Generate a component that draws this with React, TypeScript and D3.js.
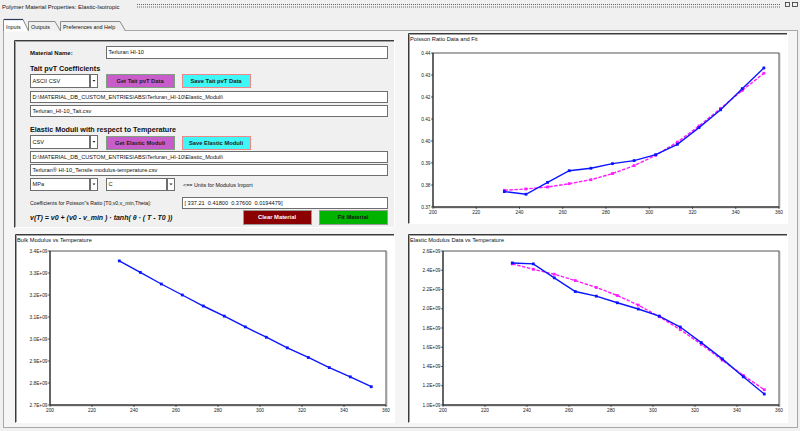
import React from 'react';
import * as d3 from 'd3';

// ---------- data ----------
const temperatures = [233, 243, 253, 263, 273, 283, 293, 303, 313, 323, 333, 343, 353];
const poissonData = [0.377, 0.3758, 0.3812, 0.3865, 0.3876, 0.3897, 0.3911, 0.3938, 0.3985, 0.4061, 0.4142, 0.4238, 0.4332];
const poissonFit = [0.3776, 0.3782, 0.3791, 0.3806, 0.3824, 0.3852, 0.3888, 0.3935, 0.3995, 0.4068, 0.4148, 0.423, 0.4308];
const bulkModulus = [3.355e9, 3.303e9, 3.25e9, 3.2e9, 3.15e9, 3.104e9, 3.055e9, 3.008e9, 2.96e9, 2.916e9, 2.87e9, 2.828e9, 2.783e9];
const elasticData = [2.476e9, 2.466e9, 2.321e9, 2.179e9, 2.131e9, 2.062e9, 1.997e9, 1.924e9, 1.81e9, 1.648e9, 1.479e9, 1.293e9, 1.114e9];
const elasticFit = [2.466e9, 2.41e9, 2.359e9, 2.293e9, 2.221e9, 2.138e9, 2.038e9, 1.917e9, 1.783e9, 1.631e9, 1.466e9, 1.307e9, 1.159e9];
const xTicks = [200, 220, 240, 260, 280, 300, 320, 340, 360];
const poissonTicks = [0.37, 0.38, 0.39, 0.4, 0.41, 0.42, 0.43, 0.44];
const bulkTicks = [2.7e9, 2.8e9, 2.9e9, 3.0e9, 3.1e9, 3.2e9, 3.3e9, 3.4e9];
const elasticTicks = [1.0e9, 1.2e9, 1.4e9, 1.6e9, 1.8e9, 2.0e9, 2.2e9, 2.4e9, 2.6e9];
const tabLabels = ['Inputs', 'Outputs', 'Preferences and Help'];

const FONT = "'Liberation Sans', Arial, sans-serif";
const BLUE = '#0a14ff';
const MAGENTA = '#ff1aff';

type Series = { values: number[]; color: string; dashed?: boolean };

function Sunken({ x, y, w, h, fill }: { x: number; y: number; w: number; h: number; fill: string }) {
  return (
    <g>
      <rect x={x} y={y} width={w} height={h} fill={fill} />
      <path d={`M${x + 0.5},${y + h} V${y + 0.5} H${x + w}`} stroke="#3a3a3a" fill="none" />
      <path d={`M${x + 1.5},${y + h - 1} V${y + 1.5} H${x + w - 1}`} stroke="#a0a0a0" fill="none" />
      <path d={`M${x + 0.5},${y + h - 0.5} H${x + w - 0.5} V${y}`} stroke="#ffffff" fill="none" />
    </g>
  );
}

function Chart({
  panel, plot, title, yDomain, yTicks, yFmt, series,
}: {
  panel: { x: number; y: number; w: number; h: number };
  plot: { x0: number; x1: number; y0: number; y1: number };
  title: string;
  yDomain: [number, number];
  yTicks: number[];
  yFmt: (v: number) => string;
  series: Series[];
}) {
  const x = d3.scaleLinear().domain([200, 360]).range([plot.x0, plot.x1]);
  const y = d3.scaleLinear().domain(yDomain).range([plot.y1, plot.y0]);
  const line = d3.line<[number, number]>().x((d) => x(d[0])).y((d) => y(d[1]));
  return (
    <g>
      <Sunken x={panel.x} y={panel.y} w={panel.w} h={panel.h} fill="#ffffff" />
      <text x={panel.x + 2} y={panel.y + 8} fontSize={5.7} fontFamily={FONT} fill="#111">{title}</text>
      <rect x={plot.x0 + 1} y={plot.y0 + 1} width={plot.x1 - plot.x0} height={plot.y1 - plot.y0} fill="none" stroke="#c8c8c8" />
      <rect x={plot.x0} y={plot.y0} width={plot.x1 - plot.x0} height={plot.y1 - plot.y0} fill="#fff" stroke="#555" strokeWidth={1} />
      <line x1={plot.x0} x2={plot.x0} y1={plot.y0} y2={plot.y1} stroke="#222" />
      <line x1={plot.x0} x2={plot.x1} y1={plot.y1} y2={plot.y1} stroke="#222" />
      {yTicks.map((t) => (
        <g key={'y' + t}>
          <line x1={plot.x0 - 2} x2={plot.x0} y1={y(t)} y2={y(t)} stroke="#222" strokeWidth={0.7} />
          <text x={plot.x0 - 2.5} y={y(t) + 1.7} fontSize={4.8} textAnchor="end" fontFamily={FONT} fill="#1a1a1a">{yFmt(t)}</text>
        </g>
      ))}
      {xTicks.map((t) => (
        <g key={'x' + t}>
          <line x1={x(t)} x2={x(t)} y1={plot.y1} y2={plot.y1 + 2} stroke="#222" strokeWidth={0.7} />
          <text x={x(t)} y={plot.y1 + 7.2} fontSize={4.8} textAnchor="middle" fontFamily={FONT} fill="#1a1a1a">{t}</text>
        </g>
      ))}
      {series.map((s, i) => {
        const pts = temperatures.map((t, j) => [t, s.values[j]] as [number, number]);
        return (
          <g key={i}>
            <path d={line(pts) || ''} fill="none" stroke={s.color} strokeWidth={1.4} strokeDasharray={s.dashed ? '3.5,1.5' : undefined} />
            {pts.map((p, j) => (
              <rect key={j} x={x(p[0]) - 1.4} y={y(p[1]) - 1.4} width={2.8} height={2.8} fill={s.color} />
            ))}
          </g>
        );
      })}
    </g>
  );
}

function TextBox({ x, y, w, h, text }: { x: number; y: number; w: number; h: number; text: string }) {
  return (
    <g>
      <rect x={x + 0.5} y={y + 0.5} width={w} height={h} fill="#fff" stroke="#6e6e6e" />
      <text x={x + 2.5} y={y + h / 2 + 2.2} fontSize={5.6} fontFamily={FONT} fill="#111" style={{ whiteSpace: 'pre' }}>{text}</text>
    </g>
  );
}

function Combo({ x, y, w, h, text }: { x: number; y: number; w: number; h: number; text: string }) {
  return (
    <g>
      <rect x={x + 0.5} y={y + 0.5} width={w} height={h} fill="#fff" stroke="#6e6e6e" />
      <text x={x + 2.5} y={y + h / 2 + 2.2} fontSize={5.6} fontFamily={FONT} fill="#111">{text}</text>
      <rect x={x + w + 1.5} y={y + 0.5} width={7} height={h} fill="#fff" stroke="#6e6e6e" />
      <path d={`M${x + w + 3.5},${y + h / 2 - 0.5} l1.5,1.8 l1.5,-1.8 z`} fill="#222" />
    </g>
  );
}

function Button({ x, y, w, h, text, fill, stroke, color }: { x: number; y: number; w: number; h: number; text: string; fill: string; stroke: string; color: string }) {
  return (
    <g>
      <rect x={x + 0.5} y={y + 0.5} width={w} height={h} fill={fill} stroke={stroke} />
      <text x={x + w / 2} y={y + h / 2 + 2.2} fontSize={5.8} fontWeight="bold" textAnchor="middle" fontFamily={FONT} fill={color}>{text}</text>
    </g>
  );
}

export default function App() {
  const fmtP = (v: number) => v.toFixed(2);
  const fmtE = (v: number) => (v / 1e9).toFixed(1) + 'E+09';
  const tabX = [3, 28, 60, 125];
  return (
    <svg width={800} height={431} style={{ position: 'absolute', left: 0, top: 0 }} fontFamily={FONT}>
      <rect x={0} y={0} width={800} height={431} fill="#f0f0f0" />
      {/* title bar */}
      <text x={2} y={9} fontSize={5.9} fill="#111">Polymer Material Properties: Elastic-Isotropic</text>
      <line x1={137} x2={781} y1={4.5} y2={4.5} stroke="#666" strokeDasharray="1,1" />
      <line x1={137} x2={781} y1={7} y2={7} stroke="#666" strokeDasharray="1,1" />
      <rect x={785.5} y={2.5} width={4} height={4} fill="none" stroke="#333" strokeWidth={0.8} />
      <rect x={792.5} y={2.5} width={5} height={4} fill="none" stroke="#333" strokeWidth={0.8} />
      {/* tab page */}
      <rect x={3.5} y={30.5} width={794} height={397} fill="#f5f5f5" stroke="#a8a8a8" />
      {/* tabs */}
      {tabLabels.map((t, i) => {
        const x0 = tabX[i];
        const x1 = tabX[i + 1];
        const sel = i === 0;
        const top = sel ? 19 : 21;
        return (
          <g key={t}>
            <path d={`M${x0 + 0.5},31 V${top + 0.5} H${x1 - 5} L${x1 + 0.5},31`} fill={sel ? '#ffffff' : '#f0f0f0'} stroke="#8a8a8a" />
            {sel && <line x1={x0 + 1} x2={x1 - 5} y1={top + 0.5} y2={top + 0.5} stroke="#2a3a5a" strokeWidth={1.2} />}
            <text x={x0 + 3} y={28.5} fontSize={5.4} fill="#111">{t}</text>
          </g>
        );
      })}
      <line x1={4} x2={27} y1={31} y2={31} stroke="#ffffff" />

      {/* form panel */}
      <Sunken x={14} y={40} w={381} h={188} fill="#f0f0f0" />
      <text x={30} y={55} fontSize={6} fontWeight="bold" fill="#111">Material Name:</text>
      <TextBox x={106} y={46} w={281} h={12} text="Terluran HI-10" />
      <text x={30} y={70.5} fontSize={7.2} fontWeight="bold" fill="#111">Tait pvT Coefficients</text>
      <Combo x={30} y={74} w={59} h={13} text="ASCII CSV" />
      <Button x={106} y={74} w={68} h={13} text="Get Tait pvT Data" fill="#c95ccb" stroke="#7fa07f" color="#222" />
      <Button x={182} y={74} w={68} h={13} text="Save Tait pvT Data" fill="#40f6f6" stroke="#ee8888" color="#222" />
      <TextBox x={30} y={91} w={357} h={11} text={'D:\\MATERIAL_DB_CUSTOM_ENTRIES\\ABS\\Terluran_HI-10\\Elastic_Moduli\\'} />
      <TextBox x={30} y={105} w={357} h={11} text="Terluran_HI-10_Tait.csv" />
      <text x={30} y={131.5} fontSize={7.2} fontWeight="bold" fill="#111">Elastic Moduli with respect to Temperature</text>
      <Combo x={30} y={135} w={59} h={13} text="CSV" />
      <Button x={106} y={136} w={68} h={13} text="Get Elastic Moduli" fill="#c95ccb" stroke="#7fa07f" color="#222" />
      <Button x={182} y={136} w={68} h={13} text="Save Elastic Moduli" fill="#40f6f6" stroke="#ee8888" color="#222" />
      <TextBox x={30} y={151} w={357} h={11} text={'D:\\MATERIAL_DB_CUSTOM_ENTRIES\\ABS\\Terluran_HI-10\\Elastic_Moduli\\'} />
      <TextBox x={30} y={164} w={357} h={11} text="Terluran® HI-10_Tensile modulus-temperature.csv" />
      <Combo x={30} y={178} w={59} h={12} text="MPa" />
      <Combo x={106} y={178} w={60} h={12} text="C" />
      <text x={183} y={186.5} fontSize={5.4} fill="#111">{'<== Units for Modulus Import'}</text>
      <text x={30} y={205} fontSize={5.2} fill="#111">{'Coefficients for Poisson"s Ratio [T0,v0,v_min,Theta]:'}</text>
      <TextBox x={182} y={197} w={205} h={11} text={'[ 337.21  0.41800  0.37600  0.0194479]'} />
      <text x={30} y={220} fontSize={7} fontWeight="bold" fontStyle="italic" fill="#111" style={{ whiteSpace: 'pre' }}>{'v(T) = v0 + (v0 - v_min ) · tanh( θ · ( T - T0 ))'}</text>
      <Button x={243} y={210} w={68} h={14} text="Clear Material" fill="#8b0000" stroke="#9a9a9a" color="#ffffff" />
      <Button x={319} y={210} w={68} h={14} text="Fit Material" fill="#00b300" stroke="#9a9a9a" color="#111" />

      {/* charts */}
      <Chart
        panel={{ x: 408, y: 33, w: 380, h: 191 }}
        plot={{ x0: 433, x1: 779, y0: 53, y1: 207 }}
        title="Poisson Ratio Data and Fit"
        yDomain={[0.37, 0.44]}
        yTicks={poissonTicks}
        yFmt={fmtP}
        series={[
          { values: poissonFit, color: MAGENTA, dashed: true },
          { values: poissonData, color: BLUE },
        ]}
      />
      <Chart
        panel={{ x: 15, y: 234, w: 380, h: 189 }}
        plot={{ x0: 50, x1: 386, y0: 251, y1: 405 }}
        title="Bulk Modulus vs Temperature"
        yDomain={[2.7e9, 3.4e9]}
        yTicks={bulkTicks}
        yFmt={fmtE}
        series={[{ values: bulkModulus, color: BLUE }]}
      />
      <Chart
        panel={{ x: 408, y: 234, w: 380, h: 189 }}
        plot={{ x0: 443, x1: 779, y0: 251, y1: 405 }}
        title="Elastic Modulus Data vs Temperature"
        yDomain={[1.0e9, 2.6e9]}
        yTicks={elasticTicks}
        yFmt={fmtE}
        series={[
          { values: elasticFit, color: MAGENTA, dashed: true },
          { values: elasticData, color: BLUE },
        ]}
      />
    </svg>
  );
}
